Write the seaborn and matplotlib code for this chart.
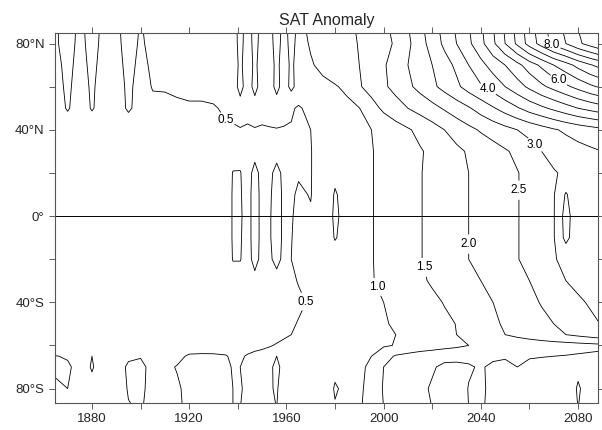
import numpy as np
import pandas as pd
import matplotlib
matplotlib.use("Agg")
import matplotlib.pyplot as plt
import seaborn as sns

# ---- data (zonal-mean SAT anomaly) ----
years = [1865, 1870, 1875, 1880, 1885, 1890, 1895, 1900, 1905, 1910, 1915, 1920,
         1925, 1930, 1935, 1938, 1941, 1944, 1947, 1950, 1953, 1956, 1959, 1962,
         1965, 1970, 1975, 1980, 1985, 1990, 1995, 2000, 2005, 2010, 2015, 2020,
         2025, 2030, 2035, 2040, 2045, 2050, 2055, 2060, 2065, 2070, 2075, 2080,
         2085, 2090]
lats = [90, 80, 70, 60, 50, 40, 30, 20, 10, 0, -10, -20, -30, -40, -50, -55,
        -60, -65, -70, -80, -90]

sat_90N = [.45,.68,.42,.64,.42,.42,.68,.48,.62,.64,.67,.70,.72,.74,.82,
           .86,1.12,.86,1.12,.90,.92,1.12,.92,1.10,
           .95,1.05,1.18,1.28,1.40,1.57,1.75,1.93,2.12,2.50,2.90,3.30,3.70,4.10,4.50,4.95,5.50,6.10,6.70,7.30,7.85,8.30,8.65,9.05,9.35,9.65]
sat_80N = [.45,.65,.40,.62,.40,.40,.65,.45,.60,.62,.65,.68,.70,.72,.80,
           .85,1.10,.85,1.10,.88,.90,1.10,.90,1.08,
           .92,1.02,1.15,1.25,1.35,1.53,1.70,1.88,2.05,2.40,2.80,3.20,3.60,4.00,4.40,4.85,5.40,6.00,6.60,7.20,7.70,8.15,8.50,8.90,9.20,9.50]
sat_70N = [.40,.60,.38,.58,.38,.38,.60,.42,.55,.60,.62,.65,.68,.70,.75,
           .80,1.08,.80,1.08,.82,.85,1.08,.85,1.06,
           .88,.98,1.05,1.15,1.30,1.50,1.72,1.95,2.20,2.50,2.75,3.00,3.30,3.60,4.00,4.35,4.70,5.00,5.35,5.75,6.10,6.50,6.80,7.15,7.45,7.70]
sat_60N = [.35,.58,.32,.56,.32,.32,.58,.36,.52,.52,.55,.58,.60,.62,.65,
           .70,1.20,.72,1.18,.74,.76,1.15,.78,1.12,
           .82,.90,.95,.98,1.05,1.45,1.70,1.92,2.15,2.40,2.65,2.90,3.15,3.40,3.70,3.95,4.20,4.50,4.80,5.10,5.40,5.65,5.90,6.15,6.40,6.60]
sat_50N = [.25,.55,.25,.54,.30,.30,.56,.35,.42,.44,.45,.46,.45,.47,.55,
           .57,.75,.58,.75,.60,.62,.74,.60,.55,
           .45,.62,.80,.88,.94,.99,1.30,1.60,1.80,2.00,2.17,2.35,2.55,2.75,2.95,3.20,3.45,3.70,3.95,4.20,4.40,4.60,4.80,5.00,5.15,5.30]
sat_40N = [.15,.20,.18,.22,.20,.22,.25,.25,.28,.30,.32,.34,.36,.38,.46,
           .47,.47,.47,.47,.47,.48,.48,.48,.47,
           .45,.50,.65,.74,.83,.92,1.00,1.12,1.30,1.45,1.62,1.80,2.00,2.20,2.38,2.55,2.70,2.85,3.00,3.15,3.30,3.45,3.58,3.70,3.80,3.90]
sat_30N = [.10,.12,.14,.16,.18,.20,.22,.24,.26,.28,.30,.32,.34,.36,.38,
           .40,.42,.42,.43,.43,.44,.44,.45,.46,
           .46,.49,.62,.74,.84,.92,.98,1.10,1.22,1.34,1.46,1.60,1.75,1.90,2.05,2.18,2.31,2.45,2.60,2.80,3.00,3.12,3.24,3.34,3.42,3.50]
sat_20N = [.10,.12,.14,.16,.18,.20,.22,.24,.26,.28,.30,.32,.33,.35,.37,
           .51,.51,.41,.57,.43,.46,.55,.46,.47,
           .48,.49,.62,.90,.83,.91,.98,1.10,1.22,1.35,1.48,1.60,1.74,1.87,2.00,2.12,2.24,2.36,2.48,2.63,2.80,2.97,3.06,3.14,3.22,3.30]
sat_10N = [.10,.12,.14,.16,.18,.20,.22,.24,.26,.28,.30,.32,.33,.35,.37,
           .52,.52,.41,.60,.43,.47,.58,.46,.47,
           .53,.49,.65,1.04,.83,.91,.98,1.10,1.22,1.35,1.48,1.60,1.74,1.87,2.00,2.12,2.24,2.36,2.48,2.63,2.80,2.97,3.55,3.14,3.22,3.30]
sat_EQ = [.10,.12,.14,.16,.18,.20,.22,.24,.26,.28,.30,.32,.33,.35,.37,
          .52,.53,.41,.60,.43,.48,.58,.46,.48,
          .56,.52,.66,1.08,.83,.91,.98,1.10,1.22,1.35,1.48,1.60,1.74,1.87,2.00,2.12,2.24,2.36,2.48,2.63,2.80,2.97,3.70,3.14,3.22,3.30]
sat_10S = [.10,.12,.14,.16,.18,.20,.22,.24,.26,.28,.30,.32,.33,.35,.37,
           .52,.52,.41,.60,.43,.48,.58,.46,.49,
           .58,.56,.68,1.03,.83,.91,.98,1.10,1.22,1.35,1.48,1.60,1.74,1.87,2.00,2.12,2.24,2.36,2.48,2.63,2.80,2.97,3.65,3.14,3.22,3.30]
sat_20S = [.10,.12,.14,.16,.18,.20,.22,.24,.26,.28,.30,.32,.33,.35,.37,
           .51,.51,.41,.58,.43,.47,.55,.46,.50,
           .55,.58,.68,.80,.83,.91,.98,1.10,1.22,1.35,1.48,1.60,1.74,1.87,2.00,2.12,2.24,2.36,2.48,2.63,2.80,2.97,3.10,3.14,3.22,3.30]
sat_30S = [.10,.12,.14,.16,.18,.20,.22,.24,.26,.28,.30,.32,.33,.35,.37,
           .40,.40,.41,.43,.43,.44,.44,.45,.47,
           .51,.56,.66,.74,.82,.90,.98,1.07,1.19,1.31,1.43,1.55,1.67,1.78,1.89,2.00,2.12,2.25,2.37,2.50,2.66,2.83,3.00,3.10,3.18,3.25]
sat_40S = [.08,.10,.12,.14,.16,.18,.20,.22,.24,.26,.28,.30,.31,.33,.35,
           .36,.37,.38,.39,.40,.41,.42,.43,.45,
           .47,.52,.62,.70,.78,.86,.93,1.00,1.10,1.20,1.30,1.41,1.52,1.63,1.75,1.88,2.00,2.13,2.26,2.39,2.53,2.67,2.80,2.94,3.04,3.12]
sat_50S = [.08,.10,.11,.12,.14,.15,.17,.18,.20,.22,.24,.26,.27,.29,.31,
           .33,.35,.36,.38,.40,.42,.44,.46,.48,
           .51,.54,.60,.66,.74,.82,.90,.97,1.04,1.15,1.24,1.33,1.42,1.51,1.65,1.80,1.93,2.05,2.16,2.27,2.39,2.50,2.64,2.78,2.92,3.02]
sat_55S = [.08,.10,.11,.12,.13,.15,.16,.18,.20,.22,.24,.26,.28,.30,.32,
           .34,.36,.38,.40,.42,.44,.46,.48,.50,
           .53,.58,.64,.70,.76,.83,.89,.95,1.00,1.10,1.20,1.30,1.40,1.50,1.62,1.74,1.87,2.00,2.10,2.20,2.30,2.40,2.50,2.60,2.70,2.80]
sat_60S = [.10,.12,.13,.14,.15,.17,.19,.21,.23,.25,.27,.29,.31,.33,.35,
           .37,.39,.41,.44,.47,.49,.51,.53,.55,
           .57,.62,.67,.72,.78,.84,.90,.95,1.02,1.10,1.18,1.26,1.34,1.42,1.50,1.55,1.60,1.65,1.70,1.72,1.75,1.78,1.80,1.83,1.86,1.90]
sat_65S = [.52,.45,.30,.50,.30,.32,.45,.48,.38,.38,.40,.55,.56,.55,.52,
           .45,.47,.52,.55,.55,.56,.50,.58,.60,
           .62,.66,.72,.82,.86,.92,1.00,1.30,1.55,1.65,1.75,1.80,1.85,1.82,1.88,1.90,1.90,1.92,1.95,1.95,1.97,2.00,2.02,2.05,2.08,2.10]
sat_70S = [.55,.58,.32,.53,.32,.35,.55,.58,.40,.42,.52,.60,.62,.60,.56,
           .48,.50,.56,.60,.58,.55,.44,.58,.62,
           .65,.70,.78,.95,.90,.95,1.05,1.50,1.62,1.75,1.85,1.95,2.10,2.15,2.05,1.95,2.10,2.20,2.00,2.15,2.25,2.30,2.15,2.40,2.25,2.45]
sat_80S = [.45,.50,.30,.40,.30,.35,.52,.56,.40,.40,.45,.60,.62,.58,.56,
           .50,.48,.55,.60,.62,.52,.48,.60,.62,
           .66,.72,.85,1.02,.95,.96,1.08,1.55,1.65,1.80,1.90,2.05,2.20,2.25,1.98,1.90,2.15,2.30,2.05,2.20,2.35,2.40,2.20,2.55,2.30,2.50]
sat_90S = [.42,.45,.32,.38,.32,.35,.48,.52,.42,.42,.45,.56,.58,.56,.54,
           .50,.50,.54,.58,.60,.54,.50,.58,.60,
           .64,.70,.82,.98,.95,.98,1.08,1.50,1.62,1.76,1.88,2.00,2.12,2.18,2.00,1.95,2.12,2.25,2.08,2.20,2.30,2.35,2.22,2.50,2.32,2.48]

levels = [0.5, 1.0, 1.5, 2.0, 2.5, 3.0, 3.5, 4.0, 4.5, 5.0, 5.5, 6.0, 6.5,
          7.0, 7.5, 8.0, 8.5, 9.0, 9.5]
x_ticks = [1880, 1900, 1920, 1940, 1960, 1980, 2000, 2020, 2040, 2060, 2080]
x_labels = ["1880", "", "1920", "", "1960", "", "2000", "", "2040", "", "2080"]
y_ticks = [80, 60, 40, 20, 0, -20, -40, -60, -80]
y_labels = ["80°N", "", "40°N", "", "0°", "", "40°S", "", "80°S"]
label_spots = [(1934, 41), (1969, -39), (1999, -32), (2016, -24), (2035, -13),
               (2056, 12), (2063, 34), (2042, 57), (2072, 63), (2069, 79)]

rows = [sat_90N, sat_80N, sat_70N, sat_60N, sat_50N, sat_40N, sat_30N, sat_20N,
        sat_10N, sat_EQ, sat_10S, sat_20S, sat_30S, sat_40S, sat_50S, sat_55S,
        sat_60S, sat_65S, sat_70S, sat_80S, sat_90S]
field = pd.DataFrame(rows, index=lats, columns=years).sort_index()

# ---- style ----
sns.set_style("ticks")
plt.rcParams["font.family"] = ["Liberation Sans", "DejaVu Sans"]

fig = plt.figure(figsize=(6.02, 4.30), dpi=100)
ax = fig.add_axes([55 / 602, 27 / 430, 543 / 602, 370 / 430])

cs = ax.contour(field.columns.values, field.index.values, field.values,
                levels=levels, colors="black", linewidths=0.6)
labels = ax.clabel(cs, fmt="%.1f", fontsize=8.5, inline=True, inline_spacing=1,
                   manual=label_spots)
for t in labels:
    t.set_rotation(0)
ax.axhline(0, color="black", lw=0.7)

ax.set_xlim(1864.8, 2088.2)
ax.set_ylim(-86.7, 84.9)
ax.set_xticks(x_ticks)
ax.set_xticklabels(x_labels, fontsize=9.5)
ax.set_yticks(y_ticks)
ax.set_yticklabels(y_labels, fontsize=9.5)
ax.tick_params(direction="out", length=4, width=0.6, top=True, right=True,
               labeltop=False, labelright=False, color="#444444")
for sp in ax.spines.values():
    sp.set_linewidth(0.8)
    sp.set_color("#555555")
ax.set_title("SAT Anomaly", fontsize=11.5, pad=6)

fig.savefig("out.png", dpi=100)
